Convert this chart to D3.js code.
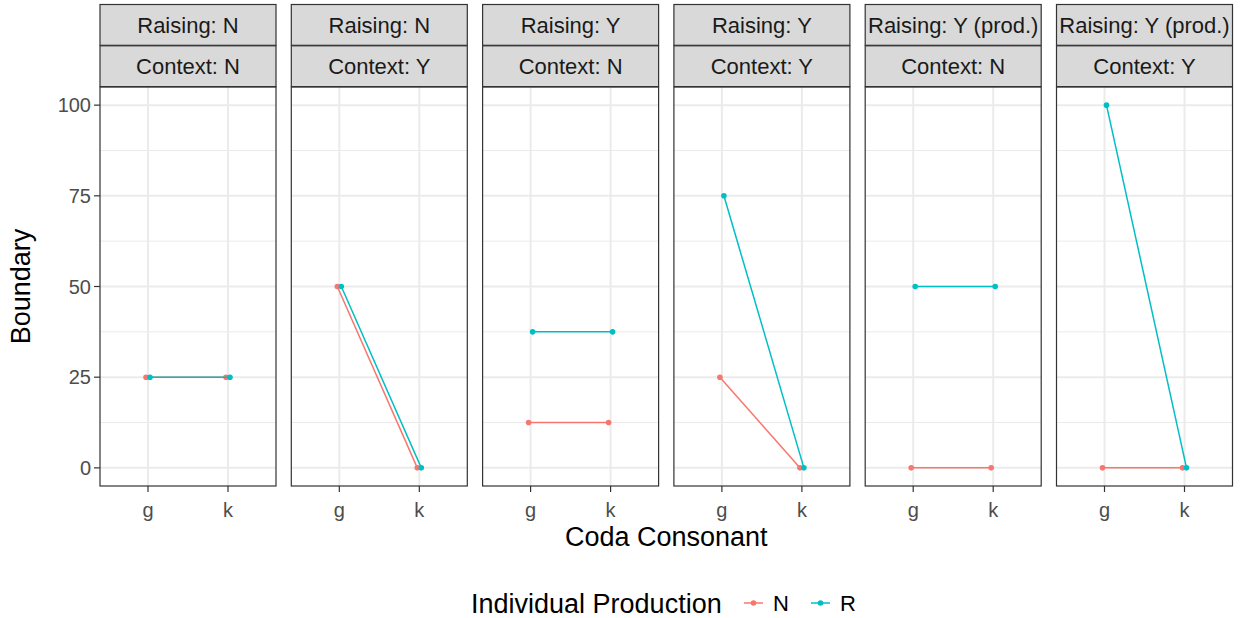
<!DOCTYPE html>
<meta charset="utf-8">
<title>Boundary by coda consonant</title>
<body style="margin:0;background:#fff">
<script src="https://d3js.org/d3.v7.min.js"></script>
<div id="chart"></div>
<script>

// facet labels, one per panel
var raisingLabels = ["Raising: N", "Raising: N", "Raising: Y", "Raising: Y", "Raising: Y (prod.)", "Raising: Y (prod.)"];
var contextLabels = ["Context: N", "Context: Y", "Context: N", "Context: Y", "Context: N", "Context: Y"];
var consonants = ["g", "k"];
var groups = ["N", "R"];
var yTicks = [0, 25, 50, 75, 100];
var yMinor = [12.5, 37.5, 62.5, 87.5];

// boundary values per panel: [g, k]
var valuesN = [[25, 25], [50, 0], [12.5, 12.5], [25, 0], [0, 0], [0, 0]];
var valuesR = [[25, 25], [50, 0], [37.5, 37.5], [75, 0], [50, 50], [100, 0]];

var W = 1240, H = 618;
var left = 100, right = 1232.5, gap = 15.3;
var plotTop = 87, plotBottom = 486;
var pw = (right - left - gap * 5) / 6;

var color = d3.scaleOrdinal().domain(groups).range(["#F8766D", "#00BFC4"]);

var svg = d3.select("#chart").append("svg")
    .attr("width", W).attr("height", H)
    .style("font-family", "'Liberation Sans', Arial, sans-serif");

var y = d3.scaleLinear().domain([-5, 105]).range([plotBottom, plotTop]);
// discrete x scale expanded by 0.6 on each side: limits 0.4..2.6
var x = d3.scaleLinear().domain([0.4, 2.6]).range([0, pw]);
var dodge = 0.025;

raisingLabels.forEach(function(lab, i) {
  var g = svg.append("g").attr("transform", "translate(" + (left + i * (pw + gap)) + ",0)");

  // grid
  g.selectAll(".minor").data(yMinor).enter().append("line")
    .attr("x1", 0).attr("x2", pw)
    .attr("y1", function(d) { return y(d); }).attr("y2", function(d) { return y(d); })
    .attr("stroke", "#ebebeb").attr("stroke-width", 1);
  g.selectAll(".major").data(yTicks).enter().append("line")
    .attr("x1", 0).attr("x2", pw)
    .attr("y1", function(d) { return y(d); }).attr("y2", function(d) { return y(d); })
    .attr("stroke", "#ebebeb").attr("stroke-width", 2);
  g.selectAll(".vmajor").data(consonants).enter().append("line")
    .attr("x1", function(d, j) { return x(j + 1); }).attr("x2", function(d, j) { return x(j + 1); })
    .attr("y1", plotTop).attr("y2", plotBottom)
    .attr("stroke", "#ebebeb").attr("stroke-width", 2);

  // series
  [valuesN[i], valuesR[i]].forEach(function(vals, s) {
    var off = s === 0 ? -dodge : dodge;
    var pts = vals.map(function(v, j) { return [x(j + 1 + off), y(v)]; });
    g.append("path").attr("d", d3.line()(pts))
      .attr("fill", "none").attr("stroke", color(groups[s])).attr("stroke-width", 1.5);
    g.selectAll(".pt" + s).data(pts).enter().append("circle")
      .attr("cx", function(d) { return d[0]; }).attr("cy", function(d) { return d[1]; })
      .attr("r", 2.8).attr("fill", color(groups[s]));
  });

  // panel border
  g.append("rect").attr("x", 0).attr("y", plotTop).attr("width", pw).attr("height", plotBottom - plotTop)
    .attr("fill", "none").attr("stroke", "#333").attr("stroke-width", 1.2);

  // strips
  [[lab, 4.5], [contextLabels[i], 45.8]].forEach(function(st) {
    g.append("rect").attr("x", 0).attr("y", st[1]).attr("width", pw).attr("height", 40.8)
      .attr("fill", "#d9d9d9").attr("stroke", "#333").attr("stroke-width", 1.2);
    g.append("text").attr("x", pw / 2).attr("y", st[1] + 20.4).attr("dy", "0.35em")
      .attr("text-anchor", "middle").attr("font-size", 22).attr("fill", "#1a1a1a").text(st[0]);
  });

  // x axis
  var xa = g.append("g").attr("transform", "translate(0," + plotBottom + ")");
  consonants.forEach(function(c, j) {
    xa.append("line").attr("x1", x(j + 1)).attr("x2", x(j + 1)).attr("y1", 0).attr("y2", 6)
      .attr("stroke", "#333").attr("stroke-width", 1.2);
    xa.append("text").attr("x", x(j + 1)).attr("y", 24).attr("dy", "0.35em")
      .attr("text-anchor", "middle").attr("font-size", 20).attr("fill", "#4d4d4d").text(c);
  });
});

// y axis
var ya = svg.append("g").attr("transform", "translate(" + left + ",0)");
yTicks.forEach(function(t) {
  ya.append("line").attr("x1", -6).attr("x2", 0).attr("y1", y(t)).attr("y2", y(t))
    .attr("stroke", "#333").attr("stroke-width", 1.2);
  ya.append("text").attr("x", -9).attr("y", y(t)).attr("dy", "0.35em")
    .attr("text-anchor", "end").attr("font-size", 20).attr("fill", "#4d4d4d").text(t);
});

// titles
svg.append("text").attr("transform", "translate(30," + ((plotTop + plotBottom) / 2) + ") rotate(-90)")
  .attr("text-anchor", "middle").attr("font-size", 27).attr("fill", "#000").text("Boundary");
svg.append("text").attr("x", (left + right) / 2).attr("y", 546)
  .attr("text-anchor", "middle").attr("font-size", 27).attr("fill", "#000").text("Coda Consonant");

// legend
var lg = svg.append("g");
lg.append("text").attr("x", 471).attr("y", 613).attr("font-size", 27).attr("fill", "#000")
  .text("Individual Production");
[[744, 773], [811, 840]].forEach(function(p, k) {
  lg.append("line").attr("x1", p[0]).attr("x2", p[0] + 19).attr("y1", 603).attr("y2", 603)
    .attr("stroke", color(groups[k])).attr("stroke-width", 1.5);
  lg.append("circle").attr("cx", p[0] + 9.5).attr("cy", 603).attr("r", 2.8).attr("fill", color(groups[k]));
  lg.append("text").attr("x", p[1]).attr("y", 603).attr("dy", "0.35em")
    .attr("font-size", 22).attr("fill", "#000").text(groups[k]);
});
</script>
